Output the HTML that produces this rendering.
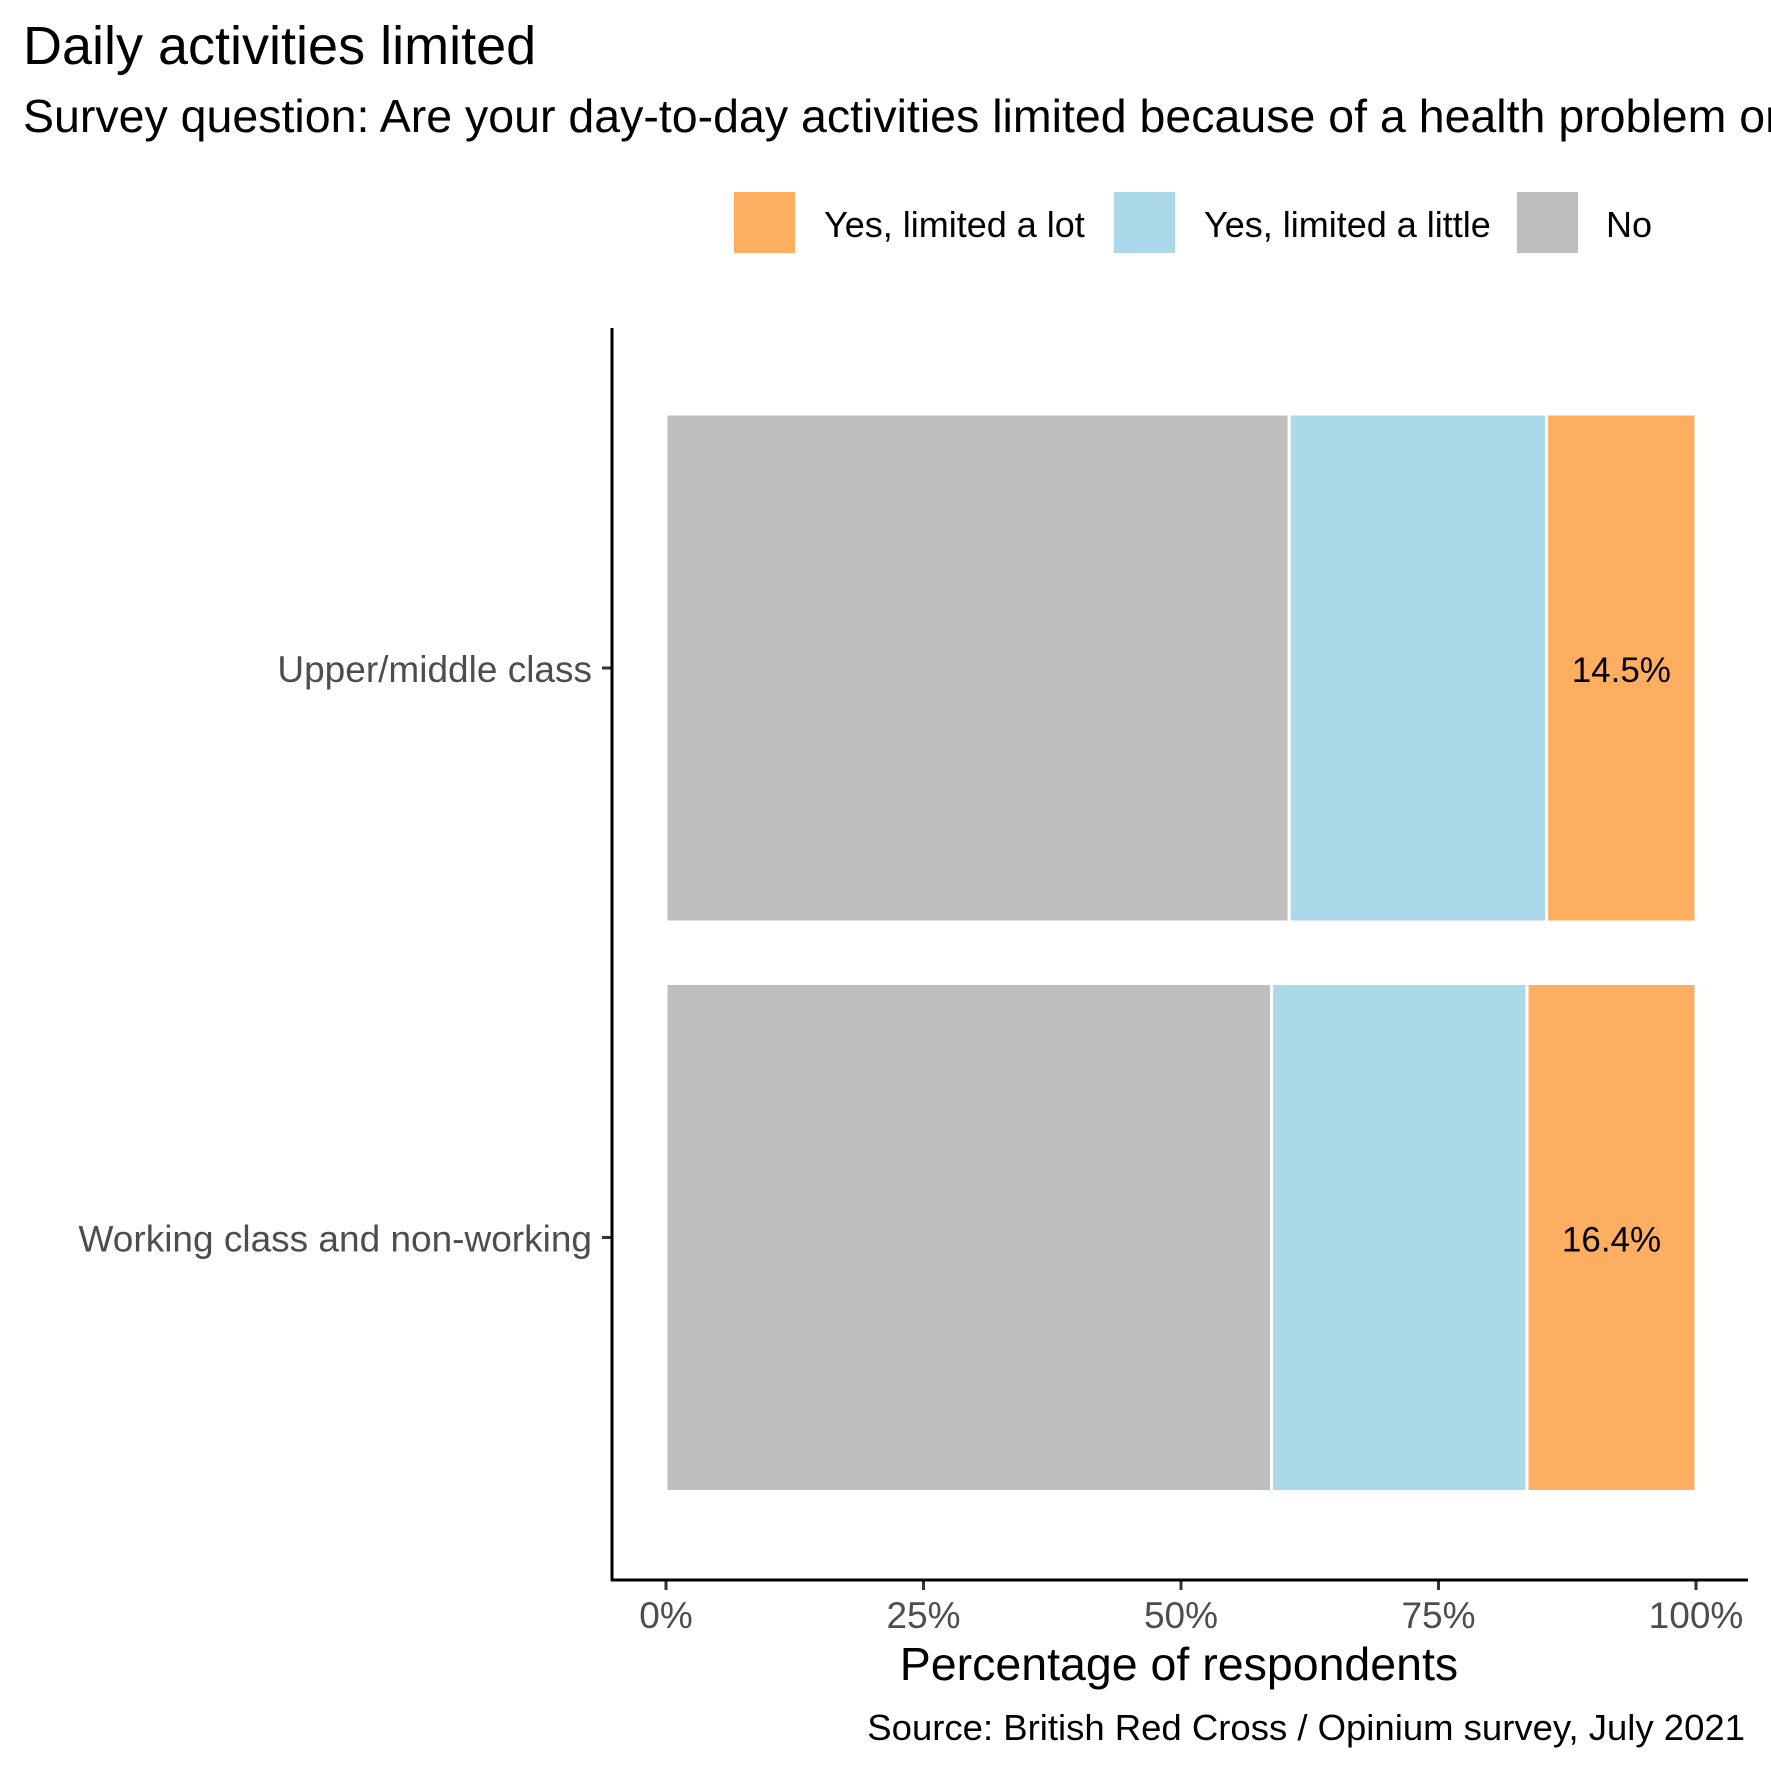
<!DOCTYPE html>
<html><head><meta charset="utf-8"><style>
html,body{margin:0;padding:0;background:#fff;}
svg{display:block;font-family:"Liberation Sans",Arial,sans-serif;}
</style></head><body>
<svg id="chart" width="1771" height="1771" viewBox="0 0 1771 1771">
<text x="23" y="64" font-size="54" fill="#000">Daily activities limited</text>
<text x="23" y="132" font-size="46.5" fill="#000">Survey question: Are your day-to-day activities limited because of a health problem or disability?</text>
<g>
<rect x="734" y="192" width="61" height="61" fill="#FDAE61"/>
<text x="824" y="237" font-size="36">Yes, limited a lot</text>
<rect x="1114" y="192" width="61" height="61" fill="#ABD9E9"/>
<text x="1204" y="237" font-size="36">Yes, limited a little</text>
<rect x="1517" y="192" width="61" height="61" fill="#BEBEBE"/>
<text x="1606" y="237" font-size="36">No</text>
</g>
<g id="plot"></g>
<line x1="612" y1="328" x2="612" y2="1581" stroke="#000" stroke-width="3"/>
<line x1="611" y1="1580" x2="1748" y2="1580" stroke="#000" stroke-width="3"/>
<text x="1179" y="1680" font-size="46.5" text-anchor="middle">Percentage of respondents</text>
<text x="1745" y="1740" font-size="36.5" text-anchor="end">Source: British Red Cross / Opinium survey, July 2021</text>
</svg>
<script>
const categories = ["Upper/middle class", "Working class and non-working"];
const noValues = [60.5, 58.8];
const littleValues = [25.0, 24.8];
const lotValues = [14.5, 16.4];
const xTicks = [0, 25, 50, 75, 100];
const xTickLabels = ["0%", "25%", "50%", "75%", "100%"];

const NS = "http://www.w3.org/2000/svg";
const plot = document.getElementById("plot");
const x = v => 666 + v * 10.30;
const yc = i => 668 + i * 569.5;
const barH = 508;

function mk(tag, attrs) {
  const e = document.createElementNS(NS, tag);
  for (const k in attrs) e.setAttribute(k, attrs[k]);
  plot.appendChild(e);
  return e;
}

categories.forEach((c, i) => {
  const segs = [
    [noValues[i], "#BEBEBE", "no"],
    [littleValues[i], "#ABD9E9", "little"],
    [lotValues[i], "#FDAE61", "lot"]
  ];
  let cum = 0;
  segs.forEach(s => {
    const r = mk("rect", {x: x(cum), y: yc(i) - barH / 2, width: x(cum + s[0]) - x(cum), height: barH, fill: s[1], stroke: "#fff", "stroke-width": 3});
    
    
    cum += s[0];
  });
  const lotStart = noValues[i] + littleValues[i];
  const lbl = mk("text", {x: (x(lotStart) + x(lotStart + lotValues[i])) / 2, y: yc(i) + 14, "font-size": 35, "text-anchor": "middle", fill: "#000"});
  lbl.textContent = lotValues[i].toFixed(1) + "%";
  
  
  const t = mk("line", {x1: 602, x2: 612, y1: yc(i), y2: yc(i), stroke: "#333", "stroke-width": 3});
  
  
  const yl = mk("text", {x: 592, y: yc(i) + 14, "font-size": 37, "text-anchor": "end", fill: "#4d4d4d"});
  yl.textContent = c;
  
  
});

xTicks.forEach((v, i) => {
  const t = mk("line", {x1: x(v), x2: x(v), y1: 1580, y2: 1590, stroke: "#333", "stroke-width": 3});
  
  
  const l = mk("text", {x: x(v), y: 1628, "font-size": 37, "text-anchor": "middle", fill: "#4d4d4d"});
  l.textContent = xTickLabels[i];
  
  
});
</script>
</body></html>
